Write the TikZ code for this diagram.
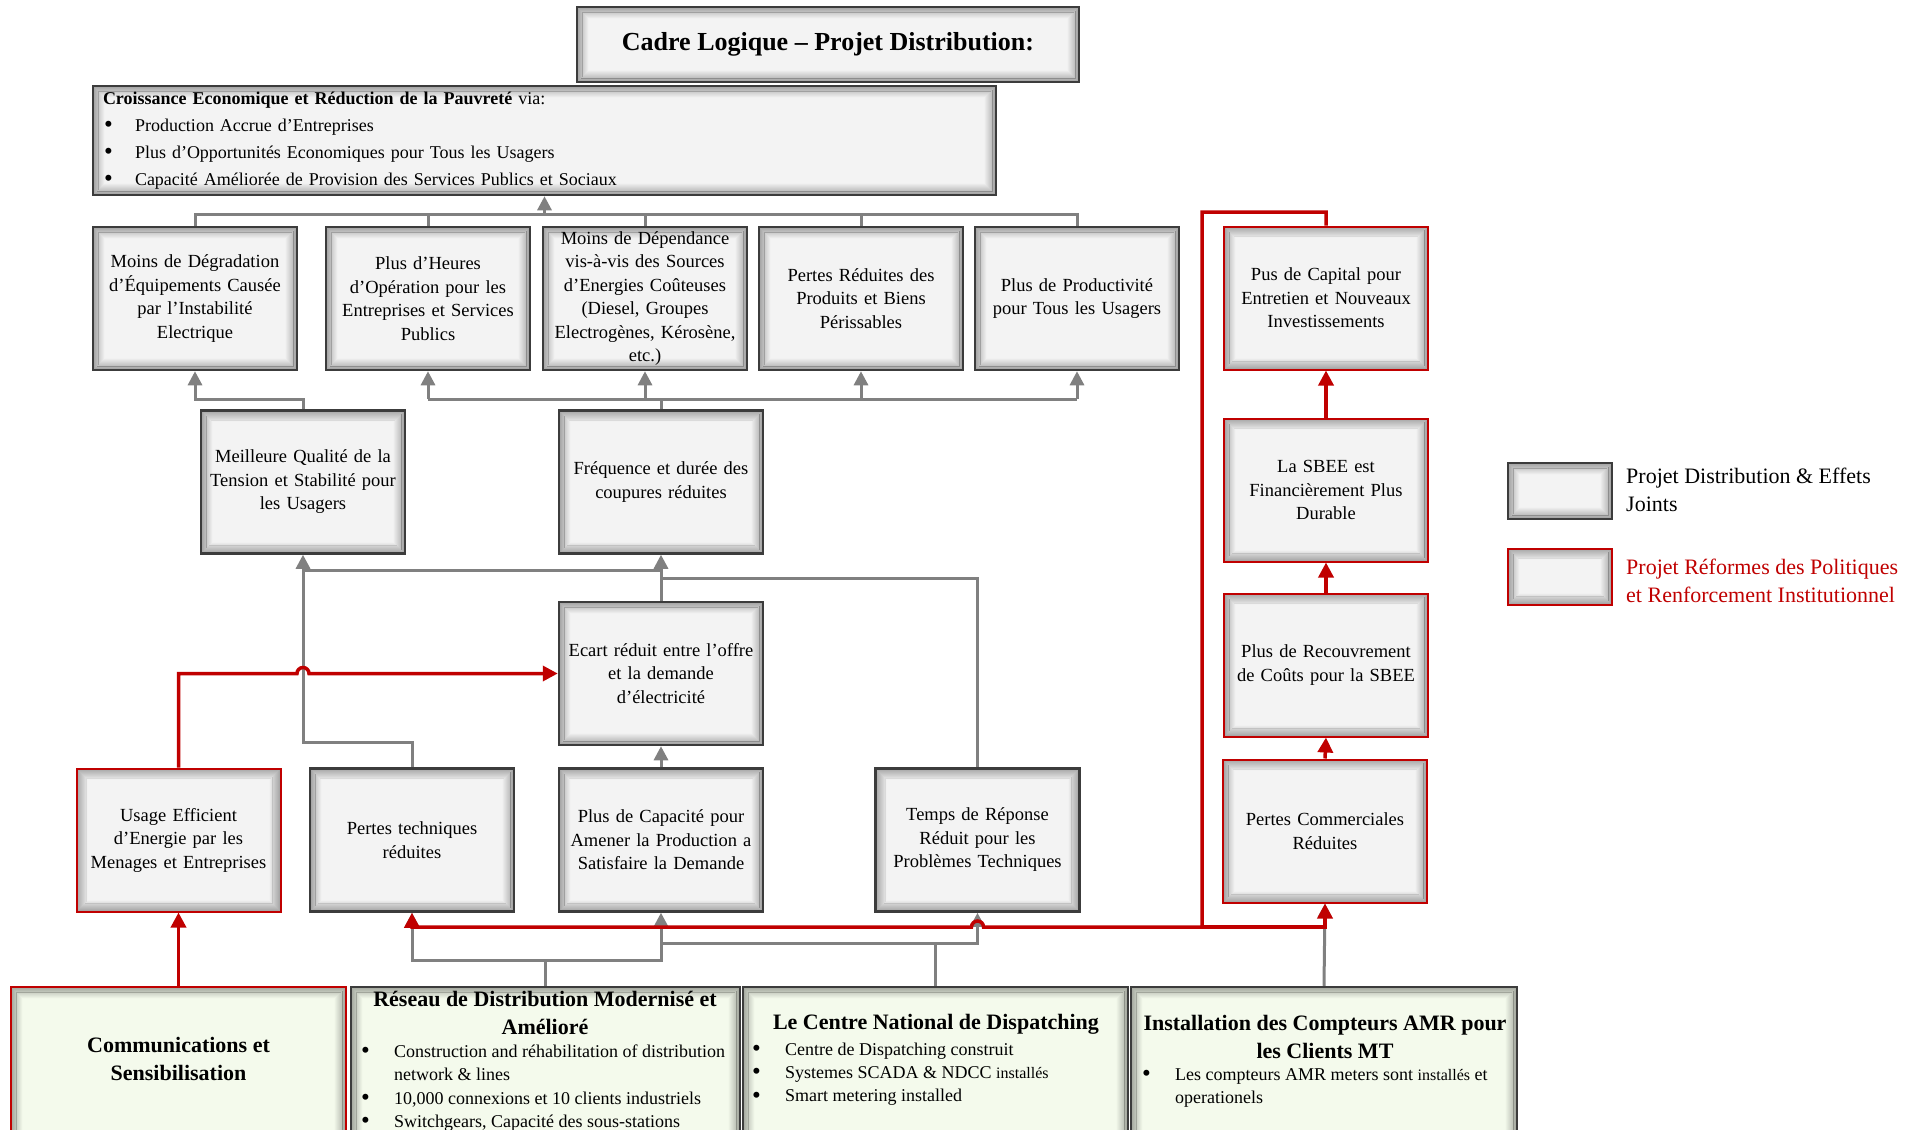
\documentclass[tikz,border=0pt]{standalone}
\usepackage{fontspec}
\setmainfont{Liberation Serif}
\usepackage{tikz}
\usetikzlibrary{arrows.meta, positioning, calc}
\usepackage{xcolor}
\definecolor{boxfill}{RGB}{243,243,243}
\definecolor{basefill}{RGB}{244,250,236}
\definecolor{boxline}{RGB}{60,60,60}
\definecolor{linkgray}{RGB}{128,128,128}
\definecolor{reform}{RGB}{192,0,0}
\newcommand{\blt}[1]{\makebox[#1][l]{\raisebox{-1.5pt}{\fontsize{25}{25}\selectfont\textbullet}}}

\begin{document}
\begin{tikzpicture}[x=1pt, y=-1pt,
    glow/.style={path picture={
      \foreach \i [evaluate=\i as \op using 0.36-0.027*\i] in {1,...,13}
        \draw[black, opacity=\op, line width=0.9pt]
          ([shift={(\i*0.9pt-0.45pt,-\i*0.9pt+0.45pt)}]path picture bounding box.north west)
          rectangle ([shift={(-\i*0.9pt+0.45pt,\i*0.9pt-0.45pt)}]path picture bounding box.south east);
    }},
    panel/.style={draw=boxline, line width=2.5pt, fill=boxfill, glow, inner sep=0pt},
    card/.style={panel, minimum width=204pt, minimum height=143pt, text width=194pt,
      align=center, font=\fontsize{18.5}{23.5}\selectfont},
    redcard/.style={card, draw=reform, line width=2pt},
    base/.style={panel, fill=basefill, minimum height=170pt},
    head/.style={font=\fontsize{22}{28}\selectfont\bfseries, align=center, inner sep=0pt},
    items/.style={font=\fontsize{18}{23.3}\selectfont, align=left, inner sep=0pt, anchor=west},
    link/.style={draw=linkgray, line width=3pt},
    arrow/.style={link, -{Triangle[width=14pt,length=14pt]}},
    redlink/.style={draw=reform, line width=3.5pt},
    redarrow/.style={redlink, -{Triangle[width=15pt,length=15pt]}}]
  \useasboundingbox (0,0) rectangle (1923,1130);
  \clip (0,0) rectangle (1923,1130);
  \fill[white] (0,0) rectangle (1923,1130);

  % title and goal
  \node[panel, minimum width=502pt, minimum height=75pt,
    font=\fontsize{26}{30}\selectfont\bfseries] (title) at (828,44.5)
    {Cadre Logique – Projet Distribution:};
  \node[panel, minimum width=903pt, minimum height=109pt, text width=883pt, align=left,
    font=\fontsize{18}{27}\selectfont] (goal) at (544.5,140.5)
    {\textbf{Croissance Economique et Réduction de la Pauvreté} via:\\
     \hspace*{1pt}\blt{31pt}Production Accrue d’Entreprises\\
     \hspace*{1pt}\blt{31pt}Plus d’Opportunités Economiques pour Tous les Usagers\\
     \hspace*{1pt}\blt{31pt}Capacité Améliorée de Provision des Services Publics et Sociaux};

  % outcomes
  \node[card] (b1) at (195,298.5) {Moins de Dégradation\\d’Équipements Causée\\par l’Instabilité\\Electrique};
  \node[card] (b2) at (428,298.5) {Plus d’Heures\\d’Opération pour les\\Entreprises et Services\\Publics};
  \node[card] (b3) at (645,298.5) {Moins de Dépendance\\vis-à-vis des Sources\\d’Energies Coûteuses\\(Diesel, Groupes\\Electrogènes, Kérosène,\\etc.)};
  \node[card] (b4) at (861,298.5) {Pertes Réduites des\\Produits et Biens\\Périssables};
  \node[card] (b5) at (1077,298.5) {Plus de Productivité\\pour Tous les Usagers};
  \node[redcard] (cap) at (1326,298) {Pus de Capital pour\\Entretien et Nouveaux\\Investissements};

  \node[card] (qual) at (303,482) {Meilleure Qualité de la\\Tension et Stabilité pour\\les Usagers};
  \node[card] (freq) at (661,482) {Fréquence et durée des\\coupures réduites};
  \node[redcard] (sbee) at (1326,490) {La SBEE est\\Financièrement Plus\\Durable};

  \node[card] (ecart) at (661,673.5) {Ecart réduit entre l’offre\\et la demande\\d’électricité};
  \node[redcard] (recouv) at (1326,665) {Plus de Recouvrement\\de Coûts pour la SBEE};

  \node[redcard] (usage) at (178.5,840) {Usage Efficient\\d’Energie par les\\Menages et Entreprises};
  \node[card] (pertech) at (412,840) {Pertes techniques\\réduites};
  \node[card] (capac) at (661,840) {Plus de Capacité pour\\Amener la Production a\\Satisfaire la Demande};
  \node[card] (temps) at (977.5,840) {Temps de Réponse\\Réduit pour les\\Problèmes Techniques};
  \node[redcard] (pertcom) at (1325,831) {Pertes Commerciales\\Réduites};

  % project components
  \node[base, draw=reform, line width=2pt, minimum width=335pt] (comm) at (178.5,1072) {};
  \node[base, minimum width=389pt] (reseau) at (545.5,1072) {};
  \node[base, minimum width=385pt] (dispatch) at (935.5,1072) {};
  \node[base, minimum width=386pt] (amr) at (1324,1072) {};

  \node[head] (commtxt) at (178.5,1059) {Communications et\\Sensibilisation};
  \node[head] (reseautxt) at (545,1012.5) {Réseau de Distribution Modernisé et\\Amélioré};
  \node[items] (reseaulist) at (361,1088)
    {\blt{33pt}Construction and réhabilitation of distribution\\
     \hspace*{33pt}network \& lines\\
     \blt{33pt}10,000 connexions et 10 clients industriels\\
     \blt{33pt}Switchgears, Capacité des sous-stations};
  \node[head] (dispatchtxt) at (936,1024) {Le Centre National de Dispatching};
  \node[items] (dispatchlist) at (752,1074)
    {\blt{33pt}Centre de Dispatching construit\\
     \blt{33pt}Systemes SCADA \& NDCC {\fontsize{16}{23.3}\selectfont installés}\\
     \blt{33pt}Smart metering installed};
  \node[head] (amrtxt) at (1325,1037) {Installation des Compteurs AMR pour\\les Clients MT};
  \node[items] (amrlist) at (1142,1088)
    {\blt{33pt}Les compteurs AMR meters sont {\fontsize{16}{23.3}\selectfont installés} et\\
     \hspace*{33pt}operationels};

  % legend
  \node[panel, minimum width=104pt, minimum height=56pt] (legdist) at (1560,491) {};
  \node[panel, draw=reform, line width=2pt, minimum width=104pt, minimum height=56pt] (legreform) at (1560,576.5) {};
  \node[inner sep=0pt, anchor=west, align=left, font=\fontsize{22}{28}\selectfont] (legdisttxt)
    at (1626,490) {Projet Distribution \& Effets\\Joints};
  \node[inner sep=0pt, anchor=west, align=left, font=\fontsize{22}{28}\selectfont, text=reform] (legreformtxt)
    at (1626,581) {Projet Réformes des Politiques\\et Renforcement Institutionnel};

  % grey links
  \coordinate (topbus) at (544.5,214);
  \draw[link] (b1.north) |- (topbus) -| (b5.north);
  \foreach \n in {b2,b3,b4}
    \draw[link] (\n.north) -- (\n.north |- topbus);
  \draw[arrow] (topbus) -- (goal.south);

  \coordinate (midbus) at (0,399);
  \draw[arrow] (qual.north) -- (qual.north |- midbus) -| (b1.south);
  \draw[link] (freq.north) -- (freq.north |- midbus);
  \draw[link] (b2.south |- midbus) -- (b5.south |- midbus);
  \foreach \n in {b2,b3,b4,b5}
    \draw[arrow] (\n.south |- midbus) -- (\n.south);

  \draw[arrow] (ecart.north) -- (freq.south);
  \draw[arrow] (pertech.north) -- ([yshift=25pt]pertech.north) -| (qual.south);
  \draw[link] ([yshift=-16pt]qual.south) -- ([yshift=-16pt]freq.south);
  \draw[link] (temps.north) |- ([yshift=-24pt]freq.south);
  \draw[arrow] (capac.north) -- (ecart.south);

  \coordinate (netbus) at ([yshift=25pt]reseau.north);
  \draw[link] (reseau.north) -- (netbus);
  \draw[arrow] (netbus) -| (pertech.south);
  \draw[arrow] (netbus) -| (capac.south);
  \coordinate (dispbus) at ([yshift=42pt]dispatch.north);
  \draw[link] (dispatch.north) -- (dispbus);
  \draw[arrow] (dispbus) -| (temps.south);
  \draw[link] (dispbus) -- (capac.south |- dispbus);
  \draw[arrow] (amr.north) -- (pertcom.south);

  % red links
  \draw[redarrow] (comm.north) -- (usage.south);
  \draw[redarrow] (usage.north) |- ($(qual.south |- ecart.west)+(-6pt,0)$)
    arc[start angle=180, end angle=0, radius=6pt] -- (ecart.west);
  \coordinate (capbend) at (1202,212);
  \coordinate (redbus) at (1202,927);
  \draw[redarrow] (cap.north) |- (capbend) -- (redbus) -- ($(temps.south |- redbus)+(6pt,0)$)
    arc[start angle=0, end angle=180, radius=6pt] -| (pertech.south);
  \draw[redarrow] (redbus) -| (pertcom.south);
  \draw[redarrow] (pertcom.north) -- (recouv.south);
  \draw[redarrow] (recouv.north) -- (sbee.south);
  \draw[redarrow] (sbee.north) -- (cap.south);
\end{tikzpicture}
\end{document}
